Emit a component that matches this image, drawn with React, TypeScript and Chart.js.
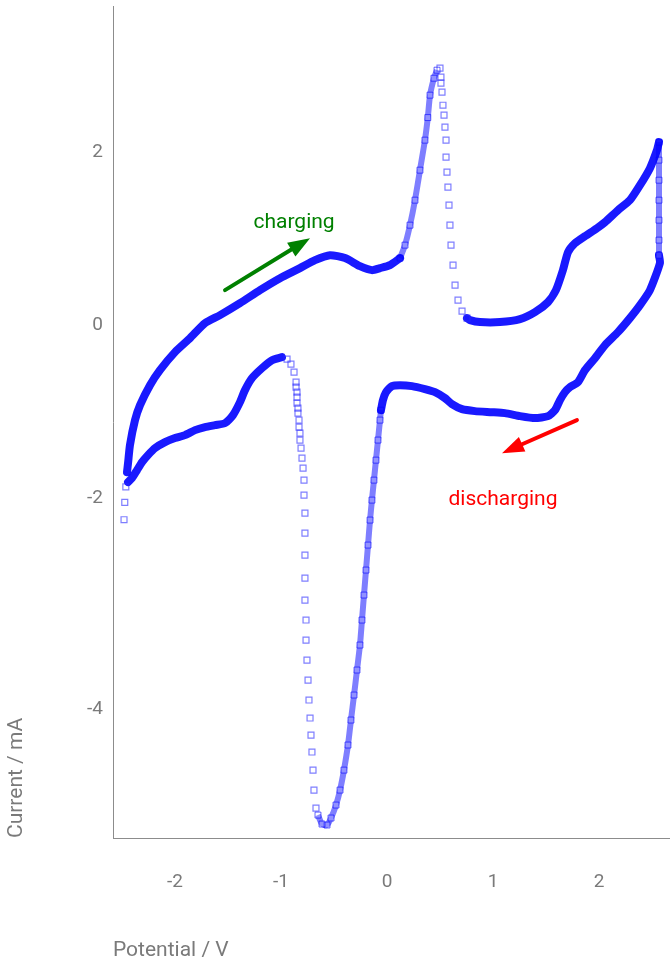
import React, { useEffect, useRef } from 'react';
import { Chart, registerables } from 'chart.js';

Chart.register(...registerables);

// Cyclic voltammogram, [potential (V), current (mA)]
const sweepStart: [number, number][] = [
  [-2.481, -2.25], [-2.474, -2.05], [-2.464, -1.87],
];

const chargingSweep: [number, number][] = [
  [-2.453, -1.7], [-2.443, -1.595], [-2.425, -1.387], [-2.377, -1.098], [-2.33, -0.925],
  [-2.236, -0.694], [-2.142, -0.52], [-2.0, -0.312], [-1.858, -0.15], [-1.717, 0.023],
  [-1.575, 0.116], [-1.387, 0.254], [-1.198, 0.405], [-1.009, 0.543], [-0.821, 0.659],
  [-0.679, 0.751], [-0.538, 0.809], [-0.396, 0.775], [-0.255, 0.682], [-0.142, 0.636],
  [-0.066, 0.659], [0.028, 0.694], [0.123, 0.775],
];

const anodicRise: [number, number][] = [
  [0.123, 0.775], [0.17, 0.925], [0.217, 1.156], [0.264, 1.445], [0.311, 1.792],
  [0.358, 2.139], [0.385, 2.4], [0.406, 2.659], [0.443, 2.855], [0.472, 2.948],
];

const anodicFall: [number, number][] = [
  [0.5, 2.971], [0.509, 2.867], [0.509, 2.798], [0.519, 2.694], [0.528, 2.543],
  [0.538, 2.428], [0.547, 2.289], [0.557, 2.139], [0.557, 1.942], [0.566, 1.769],
  [0.575, 1.595], [0.585, 1.387], [0.594, 1.156], [0.604, 0.925], [0.623, 0.694],
  [0.642, 0.462], [0.67, 0.289], [0.708, 0.162], [0.755, 0.081],
];

const upperRightSweep: [number, number][] = [
  [0.755, 0.081], [0.783, 0.058], [0.877, 0.035], [1.066, 0.035], [1.255, 0.069],
  [1.396, 0.15], [1.519, 0.266], [1.594, 0.405], [1.66, 0.636], [1.708, 0.844],
  [1.774, 0.948], [1.868, 1.029], [1.981, 1.121], [2.057, 1.191], [2.179, 1.329],
  [2.292, 1.445], [2.387, 1.618], [2.481, 1.815], [2.547, 2.023], [2.566, 2.116],
];

const vertexHold: [number, number][] = [
  [2.566, 2.116], [2.566, 1.908], [2.566, 1.676], [2.566, 1.445], [2.566, 1.214],
  [2.566, 0.983], [2.566, 0.809],
];

const lowerRightSweep: [number, number][] = [
  [2.566, 0.809], [2.575, 0.717], [2.481, 0.405], [2.387, 0.231], [2.292, 0.081],
  [2.179, -0.081], [2.057, -0.231], [1.962, -0.382], [1.868, -0.52], [1.802, -0.659],
  [1.726, -0.717], [1.679, -0.775], [1.632, -0.867], [1.585, -0.983], [1.519, -1.052],
  [1.396, -1.075], [1.255, -1.052], [1.113, -1.017], [0.972, -1.006], [0.83, -0.994],
  [0.708, -0.971], [0.613, -0.913], [0.547, -0.844], [0.453, -0.775], [0.358, -0.74],
  [0.236, -0.705], [0.123, -0.694], [0.047, -0.705], [-0.009, -0.775], [-0.038, -0.867],
  [-0.057, -0.983],
];

const cathodicDrop: [number, number][] = [
  [-0.057, -0.983], [-0.066, -1.098], [-0.085, -1.329], [-0.104, -1.561], [-0.123, -1.792],
  [-0.142, -2.023], [-0.16, -2.254], [-0.179, -2.543], [-0.198, -2.832], [-0.217, -3.121],
  [-0.236, -3.41], [-0.255, -3.699], [-0.283, -3.988], [-0.311, -4.277], [-0.34, -4.566],
  [-0.368, -4.855], [-0.406, -5.145], [-0.443, -5.376], [-0.481, -5.549], [-0.528, -5.699],
  [-0.566, -5.78], [-0.613, -5.769], [-0.651, -5.665],
];

const cathodicRise: [number, number][] = [
  [-0.67, -5.584], [-0.689, -5.376], [-0.698, -5.145], [-0.708, -4.936], [-0.717, -4.74],
  [-0.726, -4.543], [-0.736, -4.335], [-0.745, -4.104], [-0.755, -3.873], [-0.764, -3.642],
  [-0.764, -3.41], [-0.774, -3.179], [-0.774, -2.925], [-0.774, -2.659], [-0.774, -2.405],
  [-0.774, -2.173], [-0.783, -1.965], [-0.783, -1.792], [-0.792, -1.653], [-0.802, -1.538],
  [-0.811, -1.422], [-0.821, -1.329], [-0.821, -1.249], [-0.83, -1.179], [-0.83, -1.098],
  [-0.84, -1.017], [-0.84, -0.96], [-0.849, -0.902], [-0.849, -0.832], [-0.849, -0.775],
  [-0.858, -0.717], [-0.858, -0.659], [-0.877, -0.543], [-0.906, -0.451], [-0.943, -0.393],
];

const dischargeTail: [number, number][] = [
  [-0.991, -0.37], [-1.085, -0.405], [-1.179, -0.497], [-1.274, -0.613], [-1.34, -0.751],
  [-1.387, -0.89], [-1.453, -1.04], [-1.528, -1.133], [-1.623, -1.156], [-1.717, -1.179],
  [-1.811, -1.214], [-1.906, -1.272], [-2.0, -1.306], [-2.094, -1.353], [-2.189, -1.422],
  [-2.255, -1.503], [-2.311, -1.584], [-2.358, -1.676], [-2.406, -1.769], [-2.443, -1.815],
];

const xTickValues = [-2, -1, 0, 1, 2];
const yTickValues = [2, 0, -2, -4.44];
const yTickLabels = ['2', '0', '-2', '-4'];

const xRange = [-2.585, 2.67];
const yRange = [-5.93, 3.69];

const xTitle = 'Potential / V';
const yTitle = 'Current / mA';

const arrowTails: [number, number][] = [[-1.528, 0.405], [1.792, -1.098]];
const arrowTips: [number, number][] = [[-0.726, 1.006], [1.085, -1.48]];
const annotationTexts = ['charging', 'discharging'];
const annotationAnchors: [number, number][] = [[-0.877, 1.121], [1.094, -2.081]];
const annotationColors = ['#008000', '#ff0000'];

const toPts = (a: [number, number][]) => a.map(([x, y]) => ({ x, y }));

const denseStyle = {
  showLine: true,
  borderColor: 'rgba(0,0,255,0.9)',
  borderWidth: 8,
  tension: 0.2,
  pointRadius: 0,
  borderJoinStyle: 'round' as const,
  borderCapStyle: 'round' as const,
};
const mediumStyle = {
  showLine: true,
  borderColor: 'rgba(20,20,255,0.55)',
  borderWidth: 6,
  tension: 0.2,
  pointStyle: 'rect' as const,
  pointRadius: 4.2,
  pointBorderColor: 'rgba(0,0,255,0.6)',
  pointBackgroundColor: 'rgba(255,255,255,0.15)',
  pointBorderWidth: 1,
};
const sparseStyle = {
  showLine: false,
  pointStyle: 'rect' as const,
  pointRadius: 4.2,
  pointBorderColor: 'rgba(40,40,255,0.6)',
  pointBackgroundColor: 'rgba(255,255,255,0)',
  pointBorderWidth: 1.2,
};

const annotationPlugin = {
  id: 'cvAnnotations',
  afterDatasetsDraw(chart: any) {
    const { ctx, scales } = chart;
    const sx = scales.x;
    const sy = scales.y;
    ctx.save();
    arrowTails.forEach((tail, i) => {
      const x0 = sx.getPixelForValue(tail[0]);
      const y0 = sy.getPixelForValue(tail[1]);
      const x1 = sx.getPixelForValue(arrowTips[i][0]);
      const y1 = sy.getPixelForValue(arrowTips[i][1]);
      const ang = Math.atan2(y1 - y0, x1 - x0);
      const headLen = 22;
      const headW = 8;
      const c = Math.cos(ang);
      const s = Math.sin(ang);
      ctx.strokeStyle = annotationColors[i];
      ctx.fillStyle = annotationColors[i];
      ctx.lineWidth = 4;
      ctx.lineCap = 'round';
      ctx.beginPath();
      ctx.moveTo(x0, y0);
      ctx.lineTo(x1 - headLen * 0.8 * c, y1 - headLen * 0.8 * s);
      ctx.stroke();
      ctx.beginPath();
      ctx.moveTo(x1, y1);
      ctx.lineTo(x1 - headLen * c + headW * s, y1 - headLen * s - headW * c);
      ctx.lineTo(x1 - headLen * c - headW * s, y1 - headLen * s + headW * c);
      ctx.closePath();
      ctx.fill();
    });
    ctx.font = '21px Roboto';
    ctx.textAlign = 'center';
    ctx.textBaseline = 'alphabetic';
    annotationTexts.forEach((t, i) => {
      ctx.fillStyle = annotationColors[i];
      ctx.fillText(t, sx.getPixelForValue(annotationAnchors[i][0]), sy.getPixelForValue(annotationAnchors[i][1]));
    });
    ctx.restore();
  },
};

export default function App() {
  const ref = useRef<HTMLCanvasElement | null>(null);
  useEffect(() => {
    if (!ref.current) return;
    const datasets = [
      { data: toPts(sweepStart), ...sparseStyle },
      { data: toPts(chargingSweep), ...denseStyle },
      { data: toPts(anodicRise), ...mediumStyle },
      { data: toPts(anodicFall), ...sparseStyle },
      { data: toPts(upperRightSweep), ...denseStyle },
      { data: toPts(vertexHold), ...mediumStyle },
      { data: toPts(lowerRightSweep), ...denseStyle },
      { data: toPts(cathodicDrop), ...mediumStyle },
      { data: toPts(cathodicRise), ...sparseStyle },
      { data: toPts(dischargeTail), ...denseStyle },
    ];
    const chart = new Chart(ref.current, {
      type: 'scatter',
      data: { datasets: datasets as any },
      options: {
        animation: false,
        responsive: true,
        maintainAspectRatio: false,
        layout: { autoPadding: false, padding: { top: 6, left: 0, right: 0, bottom: 0 } },
        plugins: { legend: { display: false }, tooltip: { enabled: false } },
        scales: {
          x: {
            type: 'linear',
            min: xRange[0],
            max: xRange[1],
            grid: { display: false, drawTicks: false },
            border: { display: true, color: '#8c8c8c', width: 1 },
            afterBuildTicks: (scale: any) => {
              scale.ticks = xTickValues.map((v) => ({ value: v }));
            },
            afterFit: (scale: any) => {
              scale.height = 126;
              scale.paddingLeft = 0;
              scale.paddingRight = 0;
            },
            ticks: {
              padding: 33,
              color: '#7a7a7a',
              font: { family: 'Roboto', size: 19 },
              maxRotation: 0,
              callback: (v: any) => String(v),
            },
            title: {
              display: true,
              text: xTitle,
              align: 'start',
              color: '#7a7a7a',
              font: { family: 'Roboto', size: 21 },
              padding: { top: 0, bottom: 1 },
            },
          },
          y: {
            type: 'linear',
            min: yRange[0],
            max: yRange[1],
            grid: { display: false, drawTicks: false },
            border: { display: true, color: '#8c8c8c', width: 1 },
            afterBuildTicks: (scale: any) => {
              scale.ticks = yTickValues.map((v) => ({ value: v }));
            },
            afterFit: (scale: any) => {
              scale.width = 113;
              scale.paddingTop = 0;
              scale.paddingBottom = 0;
            },
            ticks: {
              padding: 10,
              color: '#7a7a7a',
              font: { family: 'Roboto', size: 19 },
              callback: (_v: any, i: number) => yTickLabels[i],
            },
            title: {
              display: true,
              text: yTitle,
              align: 'start',
              color: '#7a7a7a',
              font: { family: 'Roboto', size: 21 },
              padding: { top: 4, bottom: 0 },
            },
          },
        },
      },
      plugins: [annotationPlugin],
    });
    return () => chart.destroy();
  }, []);
  return (
    <div style={{ position: 'absolute', left: 0, top: 0, width: 670, height: 964 }}>
      <canvas ref={ref} />
    </div>
  );
}
